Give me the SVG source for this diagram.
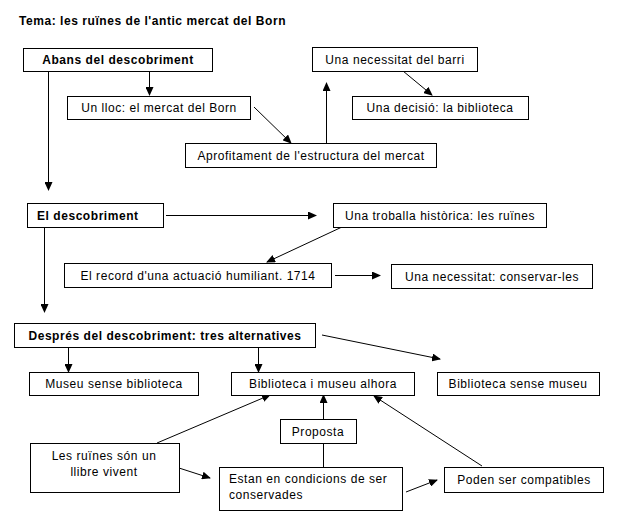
<svg xmlns="http://www.w3.org/2000/svg" width="623" height="527" viewBox="0 0 623 527">
<style>
text{font-family:"Liberation Sans",Arial,sans-serif;font-size:12px;fill:#000;letter-spacing:0.55px}
.b{font-weight:bold}
.n rect{fill:#fff;stroke:#000;stroke-width:1}
.c line{stroke:#000;stroke-width:1}
</style>
<defs>
<marker id="a" markerWidth="9" markerHeight="8" refX="8" refY="4" orient="auto" markerUnits="userSpaceOnUse">
<path d="M0,0 L9,4 L0,8 Z" fill="#000"/>
</marker>
</defs>
<rect x="0" y="0" width="623" height="527" fill="#fff"/>
<text x="19" y="25" class="b">Tema: les ruïnes de l'antic mercat del Born</text>
<g class="c">
<line x1="48.5" y1="71" x2="48.5" y2="190" marker-end="url(#a)"/>
<line x1="149.5" y1="71" x2="149.5" y2="95" marker-end="url(#a)"/>
<line x1="254" y1="107" x2="291" y2="143" marker-end="url(#a)"/>
<line x1="326.5" y1="143" x2="326.5" y2="83" marker-end="url(#a)"/>
<line x1="403" y1="71" x2="432" y2="95" marker-end="url(#a)"/>
<line x1="166" y1="215.5" x2="316" y2="215.5" marker-end="url(#a)"/>
<line x1="342" y1="227" x2="267" y2="262" marker-end="url(#a)"/>
<line x1="44.5" y1="227" x2="44.5" y2="312" marker-end="url(#a)"/>
<line x1="335" y1="275.5" x2="380" y2="275.5" marker-end="url(#a)"/>
<line x1="68.5" y1="347" x2="68.5" y2="372" marker-end="url(#a)"/>
<line x1="258.5" y1="347" x2="258.5" y2="372" marker-end="url(#a)"/>
<line x1="322" y1="335" x2="440" y2="359" marker-end="url(#a)"/>
<line x1="323.5" y1="419" x2="323.5" y2="395" marker-end="url(#a)"/>
<line x1="323.5" y1="467" x2="323.5" y2="443"/>
<line x1="157" y1="443" x2="270" y2="395" marker-end="url(#a)"/>
<line x1="179" y1="468" x2="210" y2="478" marker-end="url(#a)"/>
<line x1="406" y1="492" x2="437" y2="480" marker-end="url(#a)"/>
<line x1="482" y1="466" x2="374" y2="396" marker-end="url(#a)"/>
</g>
<g class="n">
<g id="n1"><rect x="23.5" y="48.5" width="189" height="23"/><text x="118" y="64" class="b" text-anchor="middle">Abans del descobriment</text></g>
<g id="n2"><rect x="67.5" y="96.5" width="183" height="23"/><text x="159" y="112" text-anchor="middle">Un lloc: el mercat del Born</text></g>
<g id="n3"><rect x="185.5" y="143.5" width="251" height="24"/><text x="311" y="160" text-anchor="middle">Aprofitament de l'estructura del mercat</text></g>
<g id="n4"><rect x="312.5" y="47.5" width="165" height="24"/><text x="395" y="64" text-anchor="middle">Una necessitat del barri</text></g>
<g id="n5"><rect x="352.5" y="96.5" width="176" height="23"/><text x="440" y="112" text-anchor="middle">Una decisió: la biblioteca</text></g>
<g id="n6"><rect x="27.5" y="203.5" width="136" height="24"/><text x="37" y="220" class="b">El descobriment</text></g>
<g id="n7"><rect x="333.5" y="203.5" width="213" height="24"/><text x="440" y="220" text-anchor="middle">Una troballa històrica: les ruïnes</text></g>
<g id="n8"><rect x="64.5" y="263.5" width="267" height="24"/><text x="198" y="280" text-anchor="middle">El record d'una actuació humiliant. 1714</text></g>
<g id="n9"><rect x="391.5" y="264.5" width="201" height="24"/><text x="492" y="281" text-anchor="middle">Una necessitat: conservar-les</text></g>
<g id="n10"><rect x="14.5" y="323.5" width="301" height="24"/><text x="165" y="340" class="b" text-anchor="middle">Després del descobriment: tres alternatives</text></g>
<g id="n11"><rect x="29.5" y="372.5" width="169" height="23"/><text x="114" y="388" text-anchor="middle">Museu sense biblioteca</text></g>
<g id="n12"><rect x="231.5" y="372.5" width="183" height="23"/><text x="323" y="388" text-anchor="middle">Biblioteca i museu alhora</text></g>
<g id="n13"><rect x="437.5" y="372.5" width="162" height="23"/><text x="518" y="388" text-anchor="middle">Biblioteca sense museu</text></g>
<g id="n14"><rect x="280.5" y="419.5" width="76" height="24"/><text x="318" y="436" text-anchor="middle">Proposta</text></g>
<g id="n15"><rect x="30.5" y="443.5" width="149" height="49"/><text x="104" y="460" text-anchor="middle">Les ruïnes són un</text><text x="104" y="476" text-anchor="middle">llibre vivent</text></g>
<g id="n16"><rect x="219.5" y="467.5" width="183" height="43"/><text x="229" y="483">Estan en condicions de ser</text><text x="229" y="499">conservades</text></g>
<g id="n17"><rect x="444.5" y="467.5" width="159" height="25"/><text x="524" y="484" text-anchor="middle">Poden ser compatibles</text></g>
</g>
</svg>
